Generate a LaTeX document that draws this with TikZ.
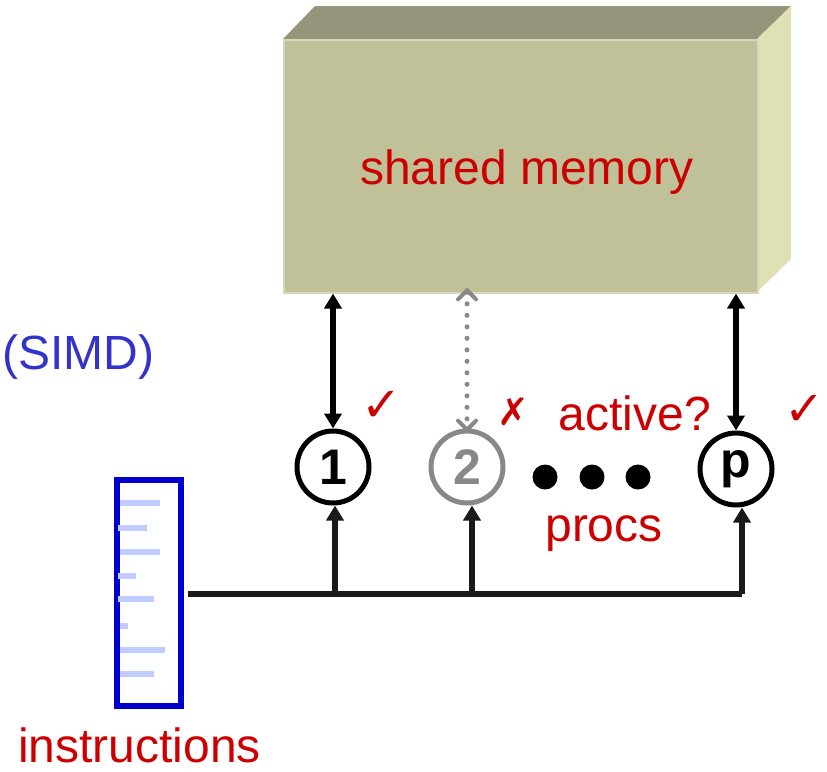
\documentclass[tikz,border=0pt]{standalone}
\usepackage{fontspec}
\setmainfont{Liberation Sans}
\newfontfamily\symfont{DejaVu Sans}
\usetikzlibrary{arrows.meta}
\definecolor{memfront}{HTML}{C0C199}
\definecolor{memtop}{HTML}{96947A}
\definecolor{memside}{HTML}{E0E0B5}
\definecolor{memedge}{HTML}{D6D6BC}
\definecolor{txtred}{HTML}{CC0000}
\definecolor{simdblue}{HTML}{3333CC}
\definecolor{instrblue}{HTML}{0000CC}
\definecolor{lineblue}{HTML}{C0CCFF}
\definecolor{procgray}{HTML}{888888}
\definecolor{buscol}{HTML}{1A1A1A}
\tikzset{
  memtip/.tip={Triangle[length=15pt,width=17pt]},
  graytip/.tip={Straight Barb[length=9pt,width=18pt,line width=4pt,line cap=round]},
  bustip/.tip={Triangle[length=15pt,width=17pt]}
}
\begin{document}
\begin{tikzpicture}[x=1pt,y=-1pt,
  lbl/.style={font=\fontsize{48}{54}\selectfont, text=txtred, inner sep=0pt},
  proc/.style={circle, draw=black, line width=5pt, minimum size=72pt, inner sep=0pt,
    font=\fontsize{50}{56}\selectfont\bfseries},
  dotnode/.style={circle, fill=black, minimum size=25pt, inner sep=0pt},
  memlink/.style={draw=black, line width=5.5pt, memtip-memtip},
  memdotted/.style={draw=procgray, line width=5pt, line cap=round, dash pattern=on 0pt off 11.5pt, graytip-graytip},
  buslink/.style={draw=buscol, line width=5.5pt, -bustip},
  checkm/.style={font=\symfont\fontsize{48}{54}\selectfont, text=txtred, inner sep=0pt},
  instrline/.style={draw=lineblue, line width=6pt}
]
\useasboundingbox (0,0) rectangle (827,771);

% memory block
\fill[memtop] (283,39) -- (315,6) -- (791,6) -- (757,39) -- cycle;
\fill[memside] (757,39) -- (791,6) -- (791,259) -- (757,292) -- cycle;
\node[draw=memedge, line width=1.5pt, fill=memfront, minimum width=474pt, minimum height=253pt,
  inner sep=0pt, anchor=north west] (mem) at (283,39) {};
\node[lbl] (memlbl) at (527,172) {shared memory};

% processors
\node[proc] (p1) at (333,467) {1};
\node[proc, draw=procgray, text=procgray] (p2) at (467,467) {2};
\node[proc] (pp) at (736,469) {p};
\node[dotnode] (d1) at (545,477) {};
\node[dotnode] (d2) at (592,477) {};
\node[dotnode] (d3) at (638,477) {};

% memory links
\draw[memlink] (p1.north |- mem.south) -- (p1.north);
\draw[memdotted] ([yshift=6pt]p2.north |- mem.south) -- ([yshift=-4pt]p2.north);
\draw[memlink] (pp.north |- mem.south) -- (pp.north);

% status marks
\node[checkm] (ck1) at (382,406) {✓};
\node[font=\symfont\fontsize{38}{44}\selectfont, text=txtred, inner sep=0pt] (x2) at (513,412) {✗};
\node[checkm] (ckp) at (805,410) {✓};
\node[lbl] (active) at (635,413) {active?};
\node[lbl] (procs) at (604,534) {procs};

% instruction stream
\node[draw=instrblue, line width=5.5pt, minimum width=64pt, minimum height=226pt, inner sep=0pt,
  anchor=north west] (instr) at (114,477) {};
\draw[instrline] (120,503) -- (160,503);
\draw[instrline] (118,528) -- (147,528);
\draw[instrline] (120,552) -- (160,552);
\draw[instrline] (118,576) -- (136,576);
\draw[instrline] (118,599) -- (154,599);
\draw[instrline] (120,626) -- (128,626);
\draw[instrline] (120,650) -- (165,650);
\draw[instrline] (120,674) -- (154,674);

% bus
\coordinate (busL) at (188,594);
\coordinate (busR) at (742,594);
\draw[draw=buscol, line width=5.5pt] (busL) -- (busR);
\draw[buslink] ([xshift=2pt]p1.south |- busL) -- ([xshift=2pt]p1.south);
\draw[buslink] ([xshift=5pt]p2.south |- busL) -- ([xshift=5pt]p2.south);
\draw[buslink] (busR) -- ([xshift=6pt]pp.south);

% labels
\node[lbl, text=simdblue, anchor=west] (simd) at (2,357) {(SIMD)};
\node[lbl, anchor=west] (instrlbl) at (18,745) {instructions};
\end{tikzpicture}
\end{document}
